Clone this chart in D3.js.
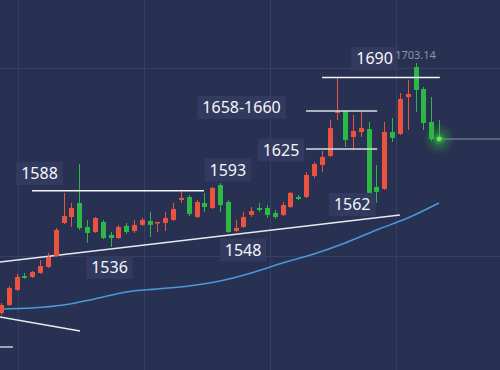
<!DOCTYPE html>
<html>
<head>
<meta charset="utf-8">
<script src="https://cdn.jsdelivr.net/npm/d3@7"></script>
<style>
  html, body { margin: 0; padding: 0; background: #283152; }
  svg { display: block; }
</style>
</head>
<body>
<svg id="chart"></svg>
<script>
// candles: open, high, low, close (red = up, green = down)
const opens  = [1475.8,1483.1,1496.8,1509.5,1508.6,1512.2,1517.7,1527.7,1557.7,1563.1,
                1575.9,1554.0,1549.5,1558.6,1546.8,1544.0,1555.0,1550.4,1555.9,1559.5,
                1557.7,1557.7,1560.4,1578.6,1581.3,1563.1,1575.9,1571.3,1592.2,1576.8,
                1550.4,1554.0,1565.0,1571.3,1571.3,1566.8,1565.0,1572.2,1581.3,1581.3,
                1600.4,1610.4,1618.6,1657.7,1659.5,1635.9,1640.4,1643.1,1590.4,1588.6,
                1640.4,1638.6,1672.2,1699.5,1679.5,1649.5,1635.9];
const highs  = [1484.9,1500.4,1511.3,1512.2,1514.0,1524.0,1530.4,1553.1,1585.0,1575.9,
                1611.3,1560.4,1563.1,1560.4,1549.5,1555.9,1557.7,1560.4,1562.2,1567.7,
                1558.6,1567.7,1575.9,1587.7,1583.1,1578.6,1585.0,1590.4,1594.0,1578.6,
                1560.4,1567.7,1572.2,1575.9,1574.0,1569.5,1576.8,1585.9,1583.1,1604.0,
                1613.1,1623.1,1651.3,1690.4,1660.4,1655.9,1658.6,1649.5,1610.4,1649.5,
                1653.1,1675.9,1687.7,1703.14,1681.3,1672.2,1651.3];
const lows   = [1474.0,1482.2,1495.9,1506.8,1507.7,1511.3,1516.8,1526.8,1556.8,1554.0,
                1551.3,1539.5,1548.6,1543.1,1535.9,1543.1,1547.7,1548.6,1555.0,1545.0,
                1549.5,1550.4,1559.5,1575.9,1564.0,1562.2,1567.7,1570.4,1567.7,1548.6,
                1549.5,1553.1,1563.1,1567.7,1562.2,1561.3,1564.0,1571.3,1578.6,1580.4,
                1598.6,1604.0,1617.7,1651.3,1626.8,1624.0,1635.9,1566.8,1575.9,1587.7,
                1631.3,1637.7,1642.2,1658.6,1642.2,1632.2,1633.1];
const closes = [1483.1,1498.6,1508.6,1507.7,1513.1,1518.6,1526.8,1551.3,1564.0,1571.3,
                1553.1,1548.6,1562.2,1544.0,1544.0,1554.0,1549.5,1555.9,1560.4,1555.9,
                1558.6,1562.2,1570.4,1580.4,1565.9,1576.8,1572.2,1589.5,1574.0,1549.5,
                1553.1,1563.1,1568.6,1569.5,1565.0,1563.1,1574.0,1585.0,1579.5,1601.3,
                1611.3,1617.7,1644.0,1659.5,1633.1,1641.3,1644.0,1585.0,1585.9,1640.4,
                1635.0,1670.4,1675.0,1678.6,1648.6,1634.0,1634.0];

// moving average, read every 4th candle
const maIndex = [0,4,8,12,16,20,24,28,32,36,40,44,48,52,56];
const maValue = [1479.5,1480.4,1483.1,1488.6,1494.9,1497.7,1500.4,1504.9,1512.2,1521.3,
                 1529.5,1539.5,1551.3,1562.2,1575.9];

// annotation lines [index1, price1, index2, price2]
const trendLines = [
  [-0.13, 1522.2, 51.0, 1565.0],
  [-0.13, 1472.2, 10.1, 1459.5]
];
const levelLines = [
  [3.96, 25.96, 1587.0],
  [39.0, 48.1, 1625.0],
  [39.0, 48.1, 1659.5],
  [41.05, 56.1, 1690.0]
];
// labels: text, index, price (box centre)
const labelText  = ["1588","1536","1593","1548","1625","1658-1660","1690","1562"];
const labelIndex = [4.92, 13.87, 29.0, 30.95, 35.8, 30.75, 47.76, 44.9];
const labelPrice = [1602.6, 1517.2, 1605.8, 1533.1, 1624.0, 1662.7, 1707.2, 1574.5];
const highMark = { text: "1703.14", index: 50.4, price: 1706.8 };

const width = 500, height = 370;
const svg = d3.select("#chart").attr("width", width).attr("height", height);

const x = d3.scaleLinear().domain([0, 56]).range([1, 439]);
const y = d3.scaleLinear().domain([1424.0, 1760.4]).range([height, 0]);

svg.append("rect").attr("width", width).attr("height", height).attr("fill", "#283152");

// grid
const grid = svg.append("g").attr("stroke", "#364067").attr("stroke-width", 1);
d3.range(18, width, 126).forEach(gx => {
  grid.append("line").attr("x1", gx + 0.5).attr("x2", gx + 0.5).attr("y1", 0).attr("y2", height);
});
[68, 256].forEach(gy => {
  grid.append("line").attr("x1", 0).attr("x2", width).attr("y1", gy + 0.5).attr("y2", gy + 0.5);
});

// short mark at lower left
svg.append("line")
  .attr("x1", 0).attr("x2", x(1.53))
  .attr("y1", y(1444.9)).attr("y2", y(1444.9))
  .attr("stroke", "#c9ccd6").attr("stroke-width", 1.5);

// moving average
const ma = maIndex.map((d, i) => [d, maValue[i]]);
svg.append("path")
  .datum(ma)
  .attr("fill", "none")
  .attr("stroke", "#4b98da")
  .attr("stroke-width", 1.5)
  .attr("d", d3.line().x(d => x(d[0])).y(d => y(d[1])).curve(d3.curveMonotoneX));

// trend lines
svg.selectAll("line.trend")
  .data(trendLines)
  .enter()
  .append("line")
  .attr("class", "trend")
  .attr("x1", d => x(d[0])).attr("y1", d => y(d[1]))
  .attr("x2", d => x(d[2])).attr("y2", d => y(d[3]))
  .attr("stroke", "#e8eaf0").attr("stroke-width", 1.5);

// candles
const candles = opens.map((o, i) => ({ i, o, h: highs[i], l: lows[i], c: closes[i] }));
const up = "#e9533f", down = "#2db845";
const bw = 5;
const cg = svg.append("g");
const cand = cg.selectAll("g").data(candles).enter().append("g");
cand.append("line")
  .attr("x1", d => Math.round(x(d.i)) + 0.5)
  .attr("x2", d => Math.round(x(d.i)) + 0.5)
  .attr("y1", d => y(d.h))
  .attr("y2", d => y(d.l))
  .attr("stroke", d => d.c >= d.o ? up : down)
  .attr("stroke-width", 1);
cand.append("rect")
  .attr("x", d => Math.round(x(d.i)) + 0.5 - bw / 2)
  .attr("width", bw)
  .attr("y", d => y(Math.max(d.o, d.c)))
  .attr("height", d => Math.max(1.5, Math.abs(y(d.o) - y(d.c))))
  .attr("fill", d => d.c >= d.o ? up : down);

// level lines
svg.selectAll("line.level")
  .data(levelLines)
  .enter()
  .append("line")
  .attr("class", "level")
  .attr("x1", d => x(d[0])).attr("x2", d => x(d[1]))
  .attr("y1", d => y(d[2])).attr("y2", d => y(d[2]))
  .attr("stroke", (d, i) => i === 1 || i === 2 ? "#d9dce4" : "#f2f3f6")
  .attr("stroke-width", 1.5);

// last price line + glow
const last = candles[candles.length - 1];
svg.append("line")
  .attr("x1", x(last.i)).attr("x2", width)
  .attr("y1", y(last.c)).attr("y2", y(last.c))
  .attr("stroke", "#8f95ad").attr("stroke-width", 1);

const defs = svg.append("defs");
const glow = defs.append("radialGradient").attr("id", "glow");
glow.append("stop").attr("offset", "0%").attr("stop-color", "#45e04a").attr("stop-opacity", 0.85);
glow.append("stop").attr("offset", "40%").attr("stop-color", "#32b83c").attr("stop-opacity", 0.35);
glow.append("stop").attr("offset", "100%").attr("stop-color", "#2a9a35").attr("stop-opacity", 0);
svg.append("circle")
  .attr("cx", x(last.i)).attr("cy", y(last.c)).attr("r", 16)
  .attr("fill", "url(#glow)");
svg.append("circle")
  .attr("cx", x(last.i)).attr("cy", y(last.c)).attr("r", 2.2)
  .attr("fill", "#5cf060");

// labels
const labels = svg.append("g");
labelText.forEach((t, i) => {
  const g = labels.append("g")
    .attr("transform", `translate(${x(labelIndex[i])}, ${y(labelPrice[i])})`);
  const txt = g.append("text")
    .attr("text-anchor", "middle")
    .attr("dy", "0.36em")
    .attr("font-family", "'Noto Sans', sans-serif")
    .attr("font-size", 16)
    .attr("fill", "#f5f6f8")
    .text(t);
  const w = txt.node().getComputedTextLength() + 10;
  g.insert("rect", "text")
    .attr("x", -w / 2).attr("y", -11.5)
    .attr("width", w).attr("height", 23)
    .attr("fill", "#323b5f");
});

svg.append("text")
  .attr("x", x(highMark.index)).attr("y", y(highMark.price))
  .attr("font-family", "'Noto Sans', sans-serif")
  .attr("font-size", 11)
  .attr("fill", "#8d93a8")
  .text(highMark.text);
</script>
</body>
</html>
